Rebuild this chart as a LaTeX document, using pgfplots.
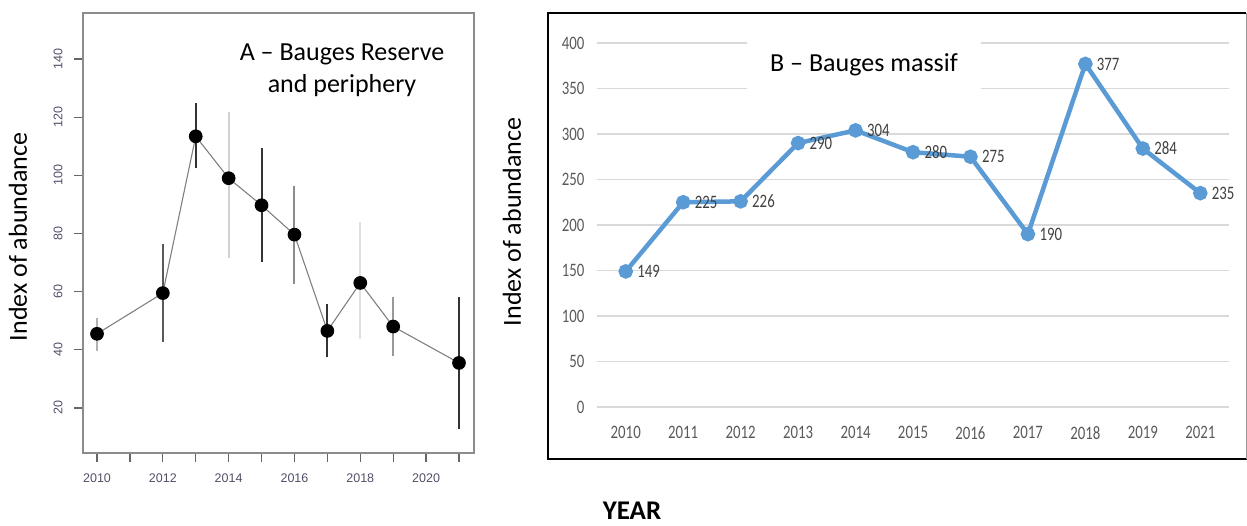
\documentclass[border=0pt]{standalone}
\usepackage{fontspec}
\setmainfont{Carlito}
\newfontfamily\condfont[FakeStretch=0.78]{Carlito}
\newfontfamily\helv{Liberation Sans}
\usepackage{pgfplots}
\pgfplotsset{compat=1.18}
\definecolor{bl}{HTML}{5B9BD5}
\definecolor{gridc}{HTML}{D9D9D9}
\definecolor{tickc}{HTML}{595959}
\definecolor{lblc}{HTML}{404040}
\definecolor{ltick}{HTML}{505068}
\begin{document}
\begin{tikzpicture}
\useasboundingbox (0,0) rectangle (1247pt,526pt);
% ---------------- Panel A ----------------
\begin{axis}[
  at={(83pt,73pt)}, anchor=south west, scale only axis,
  width=391pt, height=440pt,
  xmin=2009.574, xmax=2021.456, ymin=4.53, ymax=155.8,
  axis line style={draw=black!45, line width=1.6pt},
  tick align=outside, tick pos=left,
  major tick length=9pt,
  tick style={black!60, line width=1.2pt},
  xtick={2010,2011,...,2021},
  xticklabels={2010,,2012,,2014,,2016,,2018,,2020,},
  ytick={20,40,...,140},
  /pgf/number format/assume math mode=true,
  /pgf/number format/1000 sep={},
  ticklabel style={font=\helv\fontsize{12.5}{12.5}\selectfont, text=ltick},
  yticklabel style={xshift=-8pt, rotate=90, anchor=south},
  xticklabel shift=8pt,
  clip=false,
]
% error bars
\addplot[black!30, line width=2pt] coordinates {(2010,39.7) (2010,51.0)};
\addplot[black!65, line width=2pt] coordinates {(2012,42.7) (2012,76.4)};
\addplot[black!80, line width=2pt] coordinates {(2013,102.4) (2013,125.0)};
\addplot[black!18, line width=2pt] coordinates {(2014,71.7) (2014,121.7)};
\addplot[black!80, line width=2pt] coordinates {(2015,70.3) (2015,109.3)};
\addplot[black!45, line width=2pt] coordinates {(2016,62.7) (2016,96.2)};
\addplot[black!80, line width=2pt] coordinates {(2017,37.5) (2017,55.9)};
\addplot[black!12, line width=2pt] coordinates {(2018,43.8) (2018,83.8)};
\addplot[black!40, line width=2pt] coordinates {(2019,38.0) (2019,58.0)};
\addplot[black!80, line width=2pt] coordinates {(2021,12.8) (2021,58.0)};
% means
\addplot[black!50, line width=1.1pt, mark=*, mark size=6.3pt,
  mark options={fill=black, draw=black}] coordinates {
  (2010,45.5) (2012,59.5) (2013,113.4) (2014,99.0) (2015,89.7)
  (2016,79.6) (2017,46.5) (2018,63.0) (2019,48.0) (2021,35.5)};
\end{axis}
\node[align=center, font=\fontsize{26}{32}\selectfont] at (342pt,456pt) {A – Bauges Reserve\\and periphery};
\node[rotate=90, font=\fontsize{26}{26}\selectfont] at (18pt,289pt) {Index of abundance};
% ---------------- Panel B ----------------
\begin{axis}[
  at={(597pt,119pt)}, anchor=south west, scale only axis,
  width=632pt, height=364pt,
  xmin=-0.5, xmax=10.5, ymin=0, ymax=400,
  axis line style={draw=none},
  major tick length=0pt,
  xtick={0,1,...,10},
  xticklabels={2010,2011,2012,2013,2014,2015,2016,2017,2018,2019,2021},
  ytick={0,50,...,400},
  ymajorgrids,
  grid style={gridc, line width=1.6pt},
  /pgf/number format/assume math mode=true,
  ticklabel style={font=\condfont\fontsize{19}{19}\selectfont, text=tickc},
  yticklabel style={xshift=-9pt},
  xticklabel style={yshift=-16pt},
  clip=false,
]
\addplot[bl, line width=4.5pt, mark=*, mark size=5pt,
  mark options={fill=bl, draw=bl},
  nodes near coords,
  every node near coord/.append style={anchor=west, xshift=6pt,
    font=\condfont\fontsize{19}{19}\selectfont, text=lblc}]
  coordinates {(0,149) (1,225) (2,226) (3,290) (4,304) (5,280)
  (6,275) (7,190) (8,377) (9,284) (10,235)};
\end{axis}
\node[fill=white, minimum width=234pt, minimum height=62pt, inner sep=0pt,
  font=\fontsize{26}{26}\selectfont] at (864pt,461pt) {B – Bauges massif};
\draw[black, line width=2pt] (1246pt,513pt) -- (548pt,513pt) -- (548pt,67pt);
\draw[black, line width=2.6pt] (547pt,67pt) -- (1247pt,67pt);
\draw[black!40, line width=1pt] (1246pt,513pt) -- (1246pt,67pt);
\node[rotate=90, font=\fontsize{26}{26}\selectfont] at (512pt,304pt) {Index of abundance};
\node[anchor=base, inner sep=0pt, font=\bfseries\fontsize{27}{27}\selectfont] at (632pt,6pt) {YEAR};
\end{tikzpicture}
\end{document}
